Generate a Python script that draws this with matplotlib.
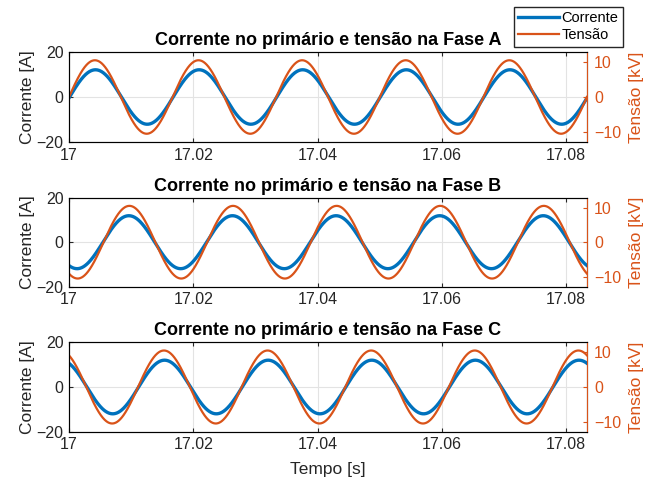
"""Corrente no primário e tensão nas fases A, B e C (estilo MATLAB)."""

import matplotlib

matplotlib.use("Agg")
import matplotlib.pyplot as plt
import numpy as np

# Values (60 Hz sinusoids)
PHASES = ["A", "B", "C"]
FREQ_HZ = 60.0
T_START = 17.0
T_END = 17.0 + 5 / 60.0
AMP_CURRENT_A = [12.1, 11.9, 12.0]
PHASE_CURRENT_DEG = [-2.0, -118.0, 118.0]
AMP_VOLTAGE_KV = [10.5, 10.5, 10.5]
PHASE_VOLTAGE_DEG = [0.0, -120.0, 120.0]

X_TICKS = [17.0, 17.02, 17.04, 17.06, 17.08]
X_TICK_LABELS = ["17", "17.02", "17.04", "17.06", "17.08"]
LEFT_TICKS = [-20, 0, 20]
RIGHT_TICKS = [-10, 0, 10]

BLUE = "#0072BD"
ORANGE = "#D95319"
DARK = "#262626"

plt.rcParams.update(
    {
        "font.family": ["Liberation Sans", "DejaVu Sans"],
        "font.size": 10,
        "xtick.direction": "in",
        "ytick.direction": "in",
        "xtick.major.size": 3,
        "ytick.major.size": 3,
        "axes.linewidth": 0.8,
    }
)

fig = plt.figure(figsize=(6.59, 4.86), dpi=100)

# axes boxes in pixels: (top, bottom)
rows = [(52.0, 142.0), (197.7, 286.7), (342.3, 431.7)]
W, H = 659.0, 486.0
left_px, right_px = 69.0, 587.0

t = np.linspace(T_START, T_END, 3000)
handles = None

for i, (phase, (top, bot)) in enumerate(zip(PHASES, rows)):
    ax = fig.add_axes(
        [left_px / W, 1 - bot / H, (right_px - left_px) / W, (bot - top) / H]
    )
    ax2 = ax.twinx()

    corrente = AMP_CURRENT_A[i] * np.sin(
        2 * np.pi * FREQ_HZ * (t - T_START) + np.deg2rad(PHASE_CURRENT_DEG[i])
    )
    tensao = AMP_VOLTAGE_KV[i] * np.sin(
        2 * np.pi * FREQ_HZ * (t - T_START) + np.deg2rad(PHASE_VOLTAGE_DEG[i])
    )

    (l1,) = ax.plot(t, corrente, color=BLUE, lw=2.4, label="Corrente")
    (l2,) = ax2.plot(t, tensao, color=ORANGE, lw=1.6, label="Tensão")
    handles = [l1, l2]

    ax.set_xlim(T_START, T_END)
    ax.set_ylim(-20, 20)
    ax2.set_ylim(-12.86, 12.86)

    ax.set_xticks(X_TICKS)
    ax.set_xticklabels(X_TICK_LABELS)
    ax.set_yticks(LEFT_TICKS)
    ax2.set_yticks(RIGHT_TICKS)

    ax.grid(True, color="#e3e3e3", lw=0.8)
    ax.set_axisbelow(True)

    ax.tick_params(axis="both", colors=DARK, labelsize=11.5, top=True, pad=4)
    ax.tick_params(axis="y", right=False)
    ax2.tick_params(axis="y", colors=ORANGE, labelsize=11.5, pad=5)

    for s in ["left", "top", "bottom"]:
        ax.spines[s].set_color(DARK)
    ax2.spines["right"].set_color(ORANGE)
    ax2.spines["right"].set_linewidth(0.8)

    ax.set_ylabel("Corrente [A]", fontsize=12.5, color=DARK, labelpad=1)
    ax2.set_ylabel("Tensão [kV]", fontsize=12.5, color=ORANGE, labelpad=6)
    ax.set_title(
        f"Corrente no primário e tensão na Fase {phase}",
        fontsize=13,
        fontweight="bold",
        color="black",
        pad=5,
    )

    if i == len(PHASES) - 1:
        ax.set_xlabel("Tempo [s]", fontsize=12.5, color=DARK, labelpad=7)

fig.legend(
    handles,
    ["Corrente", "Tensão"],
    loc="upper right",
    bbox_to_anchor=(623 / W, 1 - 7 / H),
    fontsize=10.5,
    frameon=True,
    fancybox=False,
    edgecolor=DARK,
    framealpha=1,
    handlelength=2.8,
    handletextpad=0.2,
    borderpad=0.3,
    labelspacing=0.2,
    borderaxespad=0,
)

fig.savefig("out.png", dpi=100)
